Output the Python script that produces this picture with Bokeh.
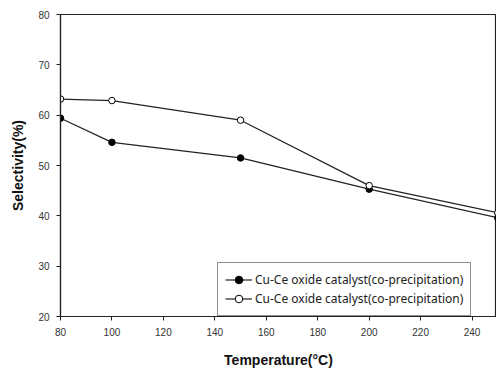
from bokeh.plotting import figure
from bokeh.models import Range1d, FixedTicker, Legend
from bokeh.embed import file_html
from bokeh.resources import INLINE

temperature = [80, 100, 150, 200, 250]
sel_filled = [59.4, 54.6, 51.5, 45.3, 39.6]
sel_open = [63.2, 62.9, 59.0, 46.0, 40.6]
series_label = "Cu-Ce oxide catalyst(co-precipitation)"
x_ticks = [80, 100, 120, 140, 160, 180, 200, 220, 240]
y_ticks = [20, 30, 40, 50, 60, 70, 80]

p = figure(width=496, height=370, output_backend="svg", toolbar_location=None,
           x_range=Range1d(80, 249.5), y_range=Range1d(20, 80),
           min_border_left=60, min_border_right=0, min_border_top=14, min_border_bottom=53)

p.grid.visible = False
p.outline_line_color = "#222222"
p.outline_line_width = 1.2
p.background_fill_color = "white"
p.border_fill_color = "white"

for ax in (p.xaxis[0], p.yaxis[0]):
    ax.axis_line_color = "#222222"
    ax.axis_line_width = 1.2
    ax.major_tick_line_color = "#222222"
    ax.major_tick_in = 0
    ax.major_tick_out = 4
    ax.minor_tick_line_color = None
    ax.major_label_text_font = "Liberation Sans"
    ax.major_label_text_font_size = "10px"
    ax.major_label_text_color = "#333333"
    ax.axis_label_text_font = "Liberation Sans"
    ax.axis_label_text_font_size = "14px"
    ax.axis_label_text_font_style = "bold"
    ax.axis_label_text_color = "#111111"

p.xaxis.ticker = FixedTicker(ticks=x_ticks)
p.yaxis.ticker = FixedTicker(ticks=y_ticks)
p.xaxis.axis_label = "Temperature(\u00b0C)"
p.yaxis.axis_label = "Selectivity(%)"
p.xaxis.major_label_standoff = 7
p.yaxis.major_label_standoff = 7
p.xaxis.axis_label_standoff = 13
p.yaxis.axis_label_standoff = 9

l1 = p.line(temperature, sel_filled, line_color="#222222", line_width=1.2)
m1 = p.scatter(temperature, sel_filled, size=6.5, marker="circle", fill_color="black", line_color="black")
l2 = p.line(temperature, sel_open, line_color="#222222", line_width=1.2)
m2 = p.scatter(temperature, sel_open, size=6.5, marker="circle", fill_color="white", line_color="black")

legend = Legend(items=[(series_label, [l1, m1]), (series_label, [l2, m2])],
                location=(157, 0))
legend.margin = 0
legend.padding = 7
legend.spacing = 0
legend.label_height = 19
legend.glyph_height = 19
legend.glyph_width = 27
legend.label_standoff = 3
legend.label_text_font = "Noto Sans"
legend.label_text_font_size = "12px"
legend.label_text_color = "#222222"
legend.border_line_color = "#222222"
legend.border_line_width = 1
legend.background_fill_color = "white"
legend.background_fill_alpha = 1.0
p.add_layout(legend)

open("out.html", "w").write(file_html(p, INLINE))
